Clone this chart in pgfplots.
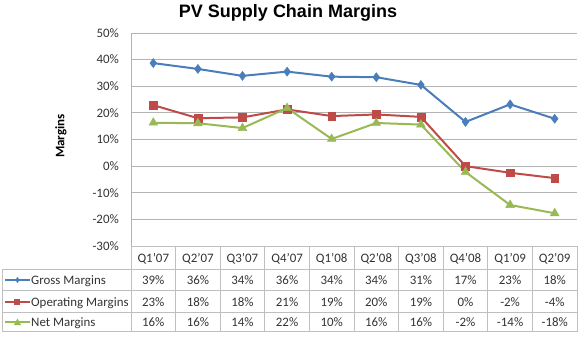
\documentclass[border=0pt]{standalone}
\usepackage{pgfplots}
\pgfplotsset{compat=1.18}
\usepackage{fontspec}
\setmainfont{Carlito}
\newfontfamily\arialfont{Liberation Sans}
\definecolor{gblue}{HTML}{4A7EBB}
\definecolor{ored}{HTML}{BE4B48}
\definecolor{ngreen}{HTML}{98B954}
\definecolor{gridc}{HTML}{B4B4B4}
\definecolor{tabc}{HTML}{BFBFBF}
\definecolor{txt}{HTML}{333333}
\tikzset{tab/.style={txt, font=\fontsize{12.9}{15}\selectfont}}
\begin{document}
\begin{tikzpicture}
\begin{axis}[
  at={(0,0)}, anchor=south west,
  scale only axis, width=446pt, height=213pt,
  xmin=-0.5, xmax=9.5, ymin=-30, ymax=50,
  xtick={0,...,9}, xticklabels={},
  ytick={-30,-20,...,50},
  yticklabel={\pgfmathprintnumber{\tick}\%},
  /pgf/number format/assume math mode=true,
  yticklabel style={font=\fontsize{12.9}{15}\selectfont\color{txt}, inner sep=0pt, xshift=-12pt},
  major tick length=0pt,
  ymajorgrids, grid style={gridc, line width=0.9pt},
  axis line style={draw=none},
  clip=false,
  every axis plot/.append style={line width=2pt},
]
\draw[gridc, line width=0.9pt] (rel axis cs:0,0) -- (rel axis cs:0,1);
\addplot[gblue, mark=diamond*, mark size=4.5pt, mark options={fill=gblue, draw=gblue, line width=0.5pt}] coordinates {
(0,38.7) (1,36.5) (2,33.9) (3,35.5) (4,33.6) (5,33.4) (6,30.5) (7,16.6) (8,23.2) (9,17.8)};
\addplot[ored, mark=square*, mark size=3.9pt, mark options={fill=ored, draw=ored, line width=0.5pt}] coordinates {
(0,22.9) (1,18.0) (2,18.3) (3,21.3) (4,18.8) (5,19.4) (6,18.5) (7,0.0) (8,-2.5) (9,-4.5)};
\addplot[ngreen, mark=triangle*, mark size=5pt, mark options={fill=ngreen, draw=ngreen, line width=0.5pt}] coordinates {
(0,16.3) (1,16.1) (2,14.3) (3,21.8) (4,10.2) (5,16.2) (6,15.6) (7,-2.2) (8,-14.6) (9,-17.7)};
\end{axis}
% y label
\node[rotate=90, font=\fontsize{13}{15}\selectfont\bfseries] at (-70pt,110pt) {Margins};
% title
\node[anchor=base, font=\arialfont\fontsize{18}{21}\selectfont\bfseries] at (157pt,228.5pt) {PV Supply Chain Margins};
% table grid
\begin{scope}[tabc, line width=0.9pt]
\draw (0,0) -- (446pt,0);
\foreach \y in {-23.3,-44.7,-66.7,-85.7} \draw (-129pt,\y pt) -- (446pt,\y pt);
\draw (-129pt,-23.3pt) -- (-129pt,-85.7pt);
\foreach \i in {0,...,10} \draw (44.6pt*\i,0) -- (44.6pt*\i,-85.7pt);
\end{scope}
% header
\foreach \q [count=\i from 0] in {Q1'07,Q2'07,Q3'07,Q4'07,Q1'08,Q2'08,Q3'08,Q4'08,Q1'09,Q2'09}
  \node[tab, anchor=base] at (22.3pt+44.6pt*\i,-16pt) {\q};
\foreach \v [count=\i from 0] in {39,36,34,36,34,34,31,17,23,18}
  \node[tab, anchor=base] at (22.3pt+44.6pt*\i,-38.5pt) {\v\%};
\foreach \v [count=\i from 0] in {23,18,18,21,19,20,19,0,-2,-4}
  \node[tab, anchor=base] at (22.3pt+44.6pt*\i,-60.2pt) {\v\%};
\foreach \v [count=\i from 0] in {16,16,14,22,10,16,16,-2,-14,-18}
  \node[tab, anchor=base] at (22.3pt+44.6pt*\i,-80.7pt) {\v\%};
% row labels with legend keys
\node[tab, anchor=base west, inner sep=0pt] at (-100pt,-38.5pt) {Gross Margins};
\node[tab, anchor=base west, inner sep=0pt] at (-100pt,-60.2pt) {Operating Margins};
\node[tab, anchor=base west, inner sep=0pt] at (-100pt,-80.7pt) {Net Margins};
\draw[gblue, line width=2pt] (-126pt,-34pt) -- (-101pt,-34pt);
\fill[gblue] (-113.5pt,-34pt) +(0,3pt) -- +(2.2pt,0) -- +(0,-3pt) -- +(-2.2pt,0) -- cycle;
\draw[ored, line width=2pt] (-126pt,-55.7pt) -- (-101pt,-55.7pt);
\fill[ored] (-116.5pt,-58.7pt) rectangle (-110.5pt,-52.7pt);
\draw[ngreen, line width=2pt] (-126pt,-76.3pt) -- (-101pt,-76.3pt);
\fill[ngreen] (-113.5pt,-72.5pt) -- (-109.8pt,-79pt) -- (-117.2pt,-79pt) -- cycle;
\pgfresetboundingbox
\path[use as bounding box] (-131pt,-94pt) rectangle (449pt,246pt);
\end{tikzpicture}
\end{document}
